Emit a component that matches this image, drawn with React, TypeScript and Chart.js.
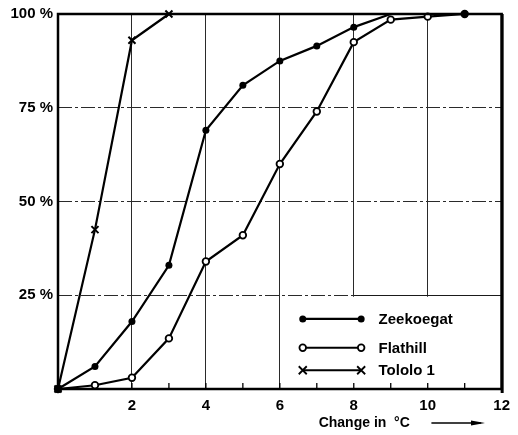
import React, { useEffect, useRef } from 'react';
import { Chart, registerables } from 'chart.js';

Chart.register(...registerables);

// ---- data ----
const seriesNames = ['Zeekoegat', 'Flathill', 'Tololo 1'];
const zeekoegatX = [0, 1, 2, 3, 4, 5, 6, 7, 8, 9, 11];
const zeekoegatY = [0, 6, 18, 33, 69, 81, 87.5, 91.5, 96.5, 100, 100];
const flathillX = [0, 1, 2, 3, 4, 5, 6, 7, 8, 9, 10, 11];
const flathillY = [0, 1, 3, 13.5, 34, 41, 60, 74, 92.5, 98.5, 99.3, 100];
const tololoX = [0, 1, 2, 3];
const tololoY = [0, 42.5, 93, 100];
const xTickLabels = [2, 4, 6, 8, 10, 12];
const yTickLabels = [25, 50, 75, 100];
const xTitle = 'Change in  °C';

const FONT = '"Liberation Sans", Arial, sans-serif';

const toPoints = (xs: number[], ys: number[]) => xs.map((x, i) => ({ x, y: ys[i] }));

function drawMarker(ctx: CanvasRenderingContext2D, kind: string, px: number, py: number) {
  ctx.save();
  ctx.strokeStyle = '#000';
  ctx.lineWidth = 1.8;
  if (kind === 'filled') {
    ctx.fillStyle = '#000';
    ctx.beginPath();
    ctx.arc(px, py, 3.5, 0, Math.PI * 2);
    ctx.fill();
  } else if (kind === 'open') {
    ctx.fillStyle = '#fff';
    ctx.beginPath();
    ctx.arc(px, py, 3.3, 0, Math.PI * 2);
    ctx.fill();
    ctx.stroke();
  } else {
    const r = 4;
    ctx.beginPath();
    ctx.moveTo(px - r, py - r);
    ctx.lineTo(px + r, py + r);
    ctx.moveTo(px + r, py - r);
    ctx.lineTo(px - r, py + r);
    ctx.stroke();
  }
  ctx.restore();
}

const markerKinds = ['filled', 'open', 'cross'];

const decorPlugin = {
  id: 'decor',
  beforeDatasetsDraw(chart: any) {
    const { ctx, chartArea: a, scales } = chart;
    const x = scales.x;
    const y = scales.y;
    ctx.save();
    // blank legend field (grid lines stop at 25 %)
    const l = x.getPixelForValue(6) + 2;
    const y25 = y.getPixelForValue(25);
    const t = y25 + 1.5;
    ctx.fillStyle = '#fff';
    ctx.fillRect(l, t, a.right - l - 1, a.bottom - t - 1);
    // solid 25 % line along the top of the legend field
    ctx.strokeStyle = '#1a1a1a';
    ctx.lineWidth = 1.2;
    ctx.beginPath();
    ctx.moveTo(x.getPixelForValue(8), Math.round(y25) + 0.5);
    ctx.lineTo(a.right, Math.round(y25) + 0.5);
    ctx.stroke();
    // minor ticks on the x axis
    ctx.strokeStyle = '#000';
    ctx.lineWidth = 1.3;
    for (let v = 1; v < 12; v++) {
      const px = x.getPixelForValue(v);
      ctx.beginPath();
      ctx.moveTo(px, a.bottom);
      ctx.lineTo(px, a.bottom - 6);
      ctx.stroke();
    }
    ctx.restore();
  },
  afterDatasetsDraw(chart: any) {
    const { ctx, chartArea: a, scales } = chart;
    const x = scales.x;
    const y = scales.y;
    ctx.save();
    // frame
    ctx.strokeStyle = '#000';
    ctx.lineWidth = 2.5;
    ctx.strokeRect(a.left, a.top, a.right - a.left, a.bottom - a.top);
    ctx.lineWidth = 3;
    ctx.beginPath();
    ctx.moveTo(a.right + 0.5, a.top);
    ctx.lineTo(a.right + 0.5, a.bottom + 4);
    ctx.stroke();

    // legend
    const rows = [18.7, 11, 5];
    const x0 = x.getPixelForValue(6.62);
    const x1 = x.getPixelForValue(8.2);
    const tx = x.getPixelForValue(8.67);
    ctx.font = `bold 15px ${FONT}`;
    ctx.textBaseline = 'middle';
    ctx.fillStyle = '#000';
    seriesNames.forEach((name, i) => {
      const py = y.getPixelForValue(rows[i]);
      ctx.strokeStyle = '#000';
      ctx.lineWidth = 2.2;
      ctx.beginPath();
      ctx.moveTo(x0, py);
      ctx.lineTo(x1, py);
      ctx.stroke();
      drawMarker(ctx, markerKinds[i], x0, py);
      drawMarker(ctx, markerKinds[i], x1, py);
      ctx.fillText(name, tx, py + 1);
    });

    // x title with arrow
    const ty = a.bottom + 34;
    ctx.font = `bold 14px ${FONT}`;
    ctx.textAlign = 'left';
    ctx.fillText(xTitle, x.getPixelForValue(7.05), ty);
    const ax0 = x.getPixelForValue(10.1);
    const ax1 = x.getPixelForValue(11.55);
    ctx.lineWidth = 1.5;
    ctx.beginPath();
    ctx.moveTo(ax0, ty);
    ctx.lineTo(ax1 - 4, ty);
    ctx.stroke();
    ctx.beginPath();
    ctx.moveTo(ax1 - 14, ty - 2.5);
    ctx.lineTo(ax1, ty);
    ctx.lineTo(ax1 - 14, ty + 2.5);
    ctx.closePath();
    ctx.fill();
    ctx.restore();
  },
};

export default function App() {
  const ref = useRef<HTMLCanvasElement>(null);

  useEffect(() => {
    if (!ref.current) return;
    const common = {
      borderColor: '#000',
      borderWidth: 2.2,
      pointBorderColor: '#000',
      pointHoverRadius: 0,
      tension: 0,
      clip: false as any,
    };
    const chart = new Chart(ref.current, {
      type: 'line',
      data: {
        datasets: [
          {
            ...common,
            label: seriesNames[0],
            data: toPoints(zeekoegatX, zeekoegatY),
            pointStyle: 'circle',
            pointRadius: (c: any) => (c.raw && c.raw.y >= 100 && c.raw.x < 11 ? 0 : 3.5),
            pointBackgroundColor: '#000',
            pointBorderWidth: 0,
          },
          {
            ...common,
            label: seriesNames[1],
            data: toPoints(flathillX, flathillY),
            pointStyle: 'circle',
            pointRadius: 3.3,
            pointBackgroundColor: '#fff',
            pointBorderWidth: 1.8,
          },
          {
            ...common,
            label: seriesNames[2],
            data: toPoints(tololoX, tololoY),
            pointStyle: 'crossRot',
            pointRadius: 5,
            pointBorderWidth: 2,
          },
        ],
      },
      options: {
        animation: false,
        responsive: true,
        maintainAspectRatio: false,
        layout: { padding: { top: 9, right: 10, left: 0, bottom: 0 } },
        plugins: {
          legend: { display: false },
          tooltip: { enabled: false },
        },
        scales: {
          x: {
            type: 'linear',
            min: 0,
            max: 12,
            afterFit: (s: any) => {
              s.height = 46;
            },
            afterBuildTicks: (s: any) => {
              s.ticks = [0, ...xTickLabels].map((v) => ({ value: v }));
            },
            ticks: {
              padding: 8,
              color: '#000',
              font: { family: FONT, size: 15, weight: 'bold' },
              callback: (v: any) => (xTickLabels.includes(Number(v)) ? String(v) : ''),
              maxRotation: 0,
              autoSkip: false,
            },
            grid: {
              drawTicks: false,
              lineWidth: 1,
              color: (c: any) => (c.tick && (c.tick.value === 0 || c.tick.value === 12) ? 'rgba(0,0,0,0)' : '#2a2a2a'),
            },
            border: { display: false },
          },
          y: {
            type: 'linear',
            min: 0,
            max: 100,
            afterFit: (s: any) => {
              s.width = 58;
            },
            afterBuildTicks: (s: any) => {
              s.ticks = [0, ...yTickLabels].map((v) => ({ value: v }));
            },
            ticks: {
              padding: 5,
              color: '#000',
              font: { family: FONT, size: 15, weight: 'bold' },
              callback: (v: any) => (yTickLabels.includes(Number(v)) ? `${v} %` : ''),
            },
            grid: {
              drawTicks: false,
              lineWidth: 1,
              color: (c: any) => (c.tick && (c.tick.value === 0 || c.tick.value === 100) ? 'rgba(0,0,0,0)' : '#2a2a2a'),
            },
            border: { display: false, dash: [14, 3, 3, 3] },
          },
        },
      },
      plugins: [decorPlugin],
    } as any);
    return () => chart.destroy();
  }, []);

  return (
    <div style={{ position: 'fixed', left: 0, top: 0, width: 518, height: 435, background: '#fff' }}>
      <canvas ref={ref} />
    </div>
  );
}
